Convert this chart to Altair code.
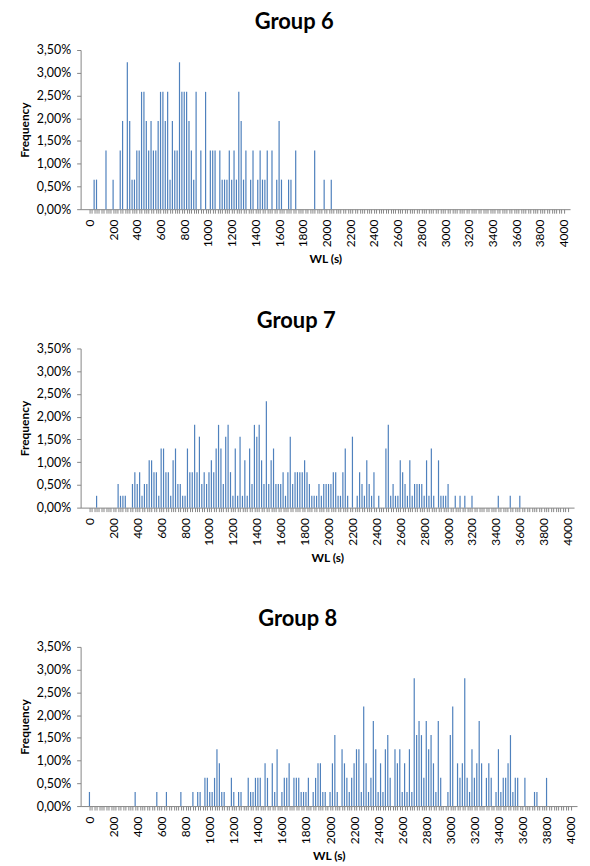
import altair as alt
import pandas as pd

# ---------------- data ----------------
g6_wl = [40, 60, 140, 200, 260, 280, 320, 340, 360, 380,
         400, 420, 440, 460, 480, 500, 520, 540, 560, 580,
         600, 620, 640, 660, 680, 700, 720, 740, 760, 780,
         800, 820, 840, 860, 880, 900, 940, 980, 1020, 1040,
         1060, 1100, 1120, 1140, 1160, 1180, 1200, 1220, 1240, 1260,
         1280, 1300, 1320, 1360, 1380, 1420, 1440, 1460, 1480, 1500,
         1540, 1580, 1600, 1620, 1680, 1700, 1740, 1900, 1980, 2040]
g6_freq = [0.65, 0.65, 1.29, 0.65, 1.29, 1.94, 3.23, 1.94, 0.65, 0.65,
           1.29, 1.29, 2.58, 2.58, 1.94, 1.29, 1.94, 1.29, 1.29, 1.94,
           2.58, 2.58, 1.94, 2.58, 0.65, 1.94, 1.29, 1.29, 3.23, 2.58,
           2.58, 2.58, 1.94, 1.29, 0.65, 2.58, 1.29, 2.58, 1.29, 1.29,
           1.29, 1.29, 0.65, 0.65, 0.65, 1.29, 0.65, 1.29, 0.65, 2.58,
           1.94, 0.65, 1.29, 0.65, 1.29, 0.65, 1.29, 0.65, 0.65, 1.29,
           1.29, 0.65, 1.94, 0.65, 0.65, 0.65, 1.29, 1.29, 0.65, 0.65]

g7_wl = [60, 240, 260, 280, 300, 360, 380, 400, 420, 440,
         460, 480, 500, 520, 540, 560, 580, 600, 620, 640,
         660, 680, 700, 720, 740, 760, 780, 800, 820, 840,
         860, 880, 900, 920, 940, 960, 980, 1000, 1020, 1040,
         1060, 1080, 1100, 1120, 1140, 1160, 1180, 1200, 1220, 1240,
         1260, 1280, 1300, 1320, 1340, 1360, 1380, 1400, 1420, 1440,
         1460, 1480, 1500, 1520, 1540, 1560, 1580, 1600, 1620, 1640,
         1660, 1680, 1700, 1720, 1740, 1760, 1780, 1800, 1820, 1840,
         1860, 1880, 1900, 1920, 1940, 1960, 1980, 2000, 2020, 2040,
         2060, 2080, 2100, 2120, 2140, 2160, 2200, 2240, 2260, 2280,
         2300, 2320, 2340, 2360, 2380, 2420, 2480, 2500, 2520, 2540,
         2560, 2580, 2600, 2620, 2640, 2660, 2680, 2700, 2720, 2740,
         2760, 2780, 2800, 2820, 2840, 2860, 2880, 2920, 2940, 2960,
         2980, 3000, 3060, 3100, 3140, 3200, 3420, 3520, 3600]
g7_freq = [0.26, 0.52, 0.26, 0.26, 0.26, 0.52, 0.78, 0.52, 0.78, 0.26,
           0.52, 0.52, 1.04, 1.04, 0.78, 0.78, 0.26, 1.30, 1.30, 0.78,
           0.78, 0.26, 1.04, 1.30, 0.52, 0.52, 0.26, 0.26, 1.30, 0.78,
           0.78, 1.82, 0.78, 1.56, 0.52, 0.78, 0.52, 0.78, 1.04, 0.78,
           1.30, 1.82, 1.30, 0.52, 1.56, 1.82, 0.78, 0.26, 1.30, 0.26,
           1.56, 0.26, 1.04, 0.26, 1.30, 0.52, 1.82, 1.56, 1.82, 1.04,
           0.52, 2.34, 0.52, 1.04, 1.30, 0.52, 0.52, 0.52, 0.78, 0.26,
           0.78, 1.56, 0.52, 0.78, 0.78, 0.78, 0.78, 1.04, 0.78, 0.52,
           0.26, 0.26, 0.26, 0.52, 0.26, 0.52, 0.52, 0.52, 0.52, 0.78,
           0.78, 0.26, 0.26, 0.78, 1.30, 0.26, 1.56, 0.26, 0.78, 0.52,
           0.26, 1.04, 0.52, 0.26, 0.78, 0.26, 1.30, 1.82, 0.26, 0.52,
           0.26, 0.26, 1.04, 0.78, 0.52, 0.26, 1.04, 0.26, 0.52, 0.52,
           0.52, 0.52, 0.26, 1.04, 0.26, 1.30, 0.26, 1.04, 0.26, 0.26,
           0.26, 0.52, 0.26, 0.26, 0.26, 0.26, 0.26, 0.26, 0.26]

g8_wl = [0, 380, 560, 640, 760, 860, 900, 920, 960, 980,
         1000, 1020, 1040, 1060, 1080, 1100, 1120, 1180, 1200, 1240,
         1260, 1320, 1340, 1360, 1380, 1400, 1420, 1460, 1480, 1520,
         1540, 1560, 1600, 1620, 1640, 1660, 1700, 1720, 1740, 1760,
         1780, 1800, 1820, 1860, 1880, 1900, 1920, 1940, 1960, 2000,
         2020, 2040, 2060, 2100, 2120, 2140, 2160, 2180, 2200, 2220,
         2240, 2260, 2280, 2300, 2320, 2340, 2360, 2380, 2400, 2420,
         2440, 2460, 2480, 2500, 2540, 2560, 2580, 2600, 2620, 2640,
         2660, 2680, 2700, 2720, 2740, 2760, 2780, 2800, 2820, 2840,
         2860, 2880, 2900, 2920, 2980, 3000, 3020, 3060, 3080, 3100,
         3120, 3140, 3160, 3180, 3200, 3220, 3240, 3260, 3300, 3320,
         3340, 3380, 3400, 3420, 3440, 3460, 3480, 3500, 3520, 3540,
         3560, 3620, 3700, 3720, 3800]
g8_freq = [0.31, 0.31, 0.31, 0.31, 0.31, 0.31, 0.31, 0.31, 0.62, 0.62,
           0.31, 0.31, 0.62, 1.25, 0.94, 0.31, 0.31, 0.62, 0.31, 0.31,
           0.31, 0.62, 0.31, 0.31, 0.62, 0.62, 0.62, 0.94, 0.62, 0.94,
           0.31, 1.25, 0.31, 0.62, 0.62, 0.94, 0.62, 0.62, 0.62, 0.31,
           0.31, 0.31, 0.62, 0.31, 0.62, 0.94, 0.94, 0.31, 0.31, 0.31,
           0.94, 1.56, 0.31, 1.25, 0.94, 0.62, 0.31, 0.62, 0.94, 1.25,
           1.25, 0.31, 2.19, 0.94, 0.31, 0.62, 1.87, 1.25, 0.31, 0.94,
           0.31, 1.25, 1.56, 0.62, 1.25, 0.94, 1.25, 0.31, 0.94, 0.31,
           1.25, 0.31, 2.81, 1.56, 1.87, 1.56, 0.62, 1.87, 1.25, 1.56,
           0.94, 0.31, 1.87, 0.62, 0.31, 1.56, 2.19, 0.94, 0.62, 0.94,
           2.81, 0.62, 0.31, 1.25, 0.62, 0.94, 1.87, 0.94, 0.62, 0.94,
           0.62, 0.31, 1.25, 0.31, 0.62, 0.62, 0.94, 1.56, 0.31, 0.62,
           0.62, 0.62, 0.31, 0.31, 0.62]

titles = ["Group 6", "Group 7", "Group 8"]
x_tick_values = list(range(0, 4001, 20))
y_tick_values = [0, 0.005, 0.01, 0.015, 0.02, 0.025, 0.03, 0.035]

# ---------------- styling ----------------
FONT = "Lato"
BAR_COLOR = "#4F81BD"
AXIS_GRAY = "#868686"


def panel(title, wl, freq, width):
    df = pd.DataFrame({"WL": wl, "Frequency": [f / 100.0 for f in freq]})
    return (
        alt.Chart(
            df,
            title=alt.Title(
                title, font=FONT, fontSize=22, fontWeight="bold", color="#000000",
                anchor="middle", frame="bounds", offset=10,
            ),
        )
        .mark_bar(size=1.2, color=BAR_COLOR)
        .encode(
            x=alt.X(
                "WL:Q",
                title="WL (s)",
                scale=alt.Scale(domain=[-32, 4012], nice=False, zero=False),
                axis=alt.Axis(
                    values=x_tick_values,
                    format="d",
                    labelExpr="datum.value % 200 === 0 ? datum.label : ''",
                    labelAngle=270,
                    labelOverlap=False,
                    labelFlush=False,
                    labelFont=FONT, labelFontSize=12, labelColor="#000000",
                    labelPadding=6,
                    tickSize=4, tickColor=AXIS_GRAY, tickWidth=1,
                    domainColor=AXIS_GRAY, domainWidth=1,
                    grid=False,
                    titleFont=FONT, titleFontSize=12, titleFontWeight="bold",
                    titleColor="#000000", titlePadding=7,
                ),
            ),
            y=alt.Y(
                "Frequency:Q",
                title="Frequency",
                scale=alt.Scale(domain=[0, 0.035], nice=False),
                axis=alt.Axis(
                    values=y_tick_values,
                    labelExpr="replace(format(datum.value, '.2%'), '.', ',')",
                    labelFont=FONT, labelFontSize=12.5, labelColor="#000000",
                    labelPadding=6,
                    tickSize=4, tickColor=AXIS_GRAY, tickWidth=1,
                    domainColor=AXIS_GRAY, domainWidth=1,
                    grid=False,
                    titleFont=FONT, titleFontSize=12, titleFontWeight="bold",
                    titleColor="#000000", titlePadding=5,
                ),
            ),
        )
        .properties(width=width, height=160)
    )


chart = (
    alt.vconcat(
        panel(titles[0], g6_wl, g6_freq, 492),
        panel(titles[1], g7_wl, g7_freq, 496),
        panel(titles[2], g8_wl, g8_freq, 499),
        spacing=45,
    )
    .properties(padding={"top": 1, "left": 10, "right": 5, "bottom": 0}, background="#ffffff")
    .configure_view(stroke=None)
)

chart.save("out.html", embed_options={"renderer": "svg", "actions": False})
